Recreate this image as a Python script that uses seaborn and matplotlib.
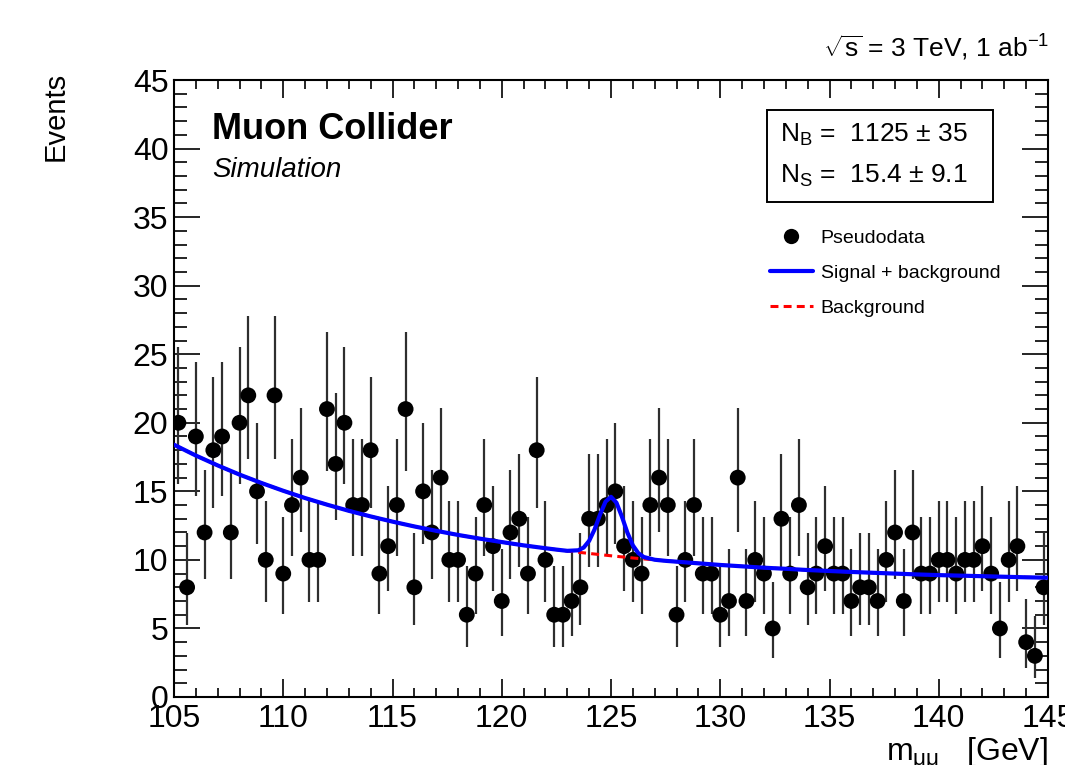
import numpy as np
import matplotlib
matplotlib.use("Agg")
import matplotlib.pyplot as plt
import seaborn as sns
from matplotlib.lines import Line2D
from matplotlib.patches import Rectangle
from matplotlib.ticker import MultipleLocator

# ---------------- data ----------------
bin_low, bin_high, n_bins = 105.0, 145.0, 100
counts = [20, 8, 19, 12, 18, 19, 12, 20, 22, 15,
          10, 22, 9, 14, 16, 10, 10, 21, 17, 20,
          14, 14, 18, 9, 11, 14, 21, 8, 15, 12,
          16, 10, 10, 6, 9, 14, 11, 7, 12, 13,
          9, 18, 10, 6, 6, 7, 8, 13, 13, 14,
          15, 11, 10, 9, 14, 16, 14, 6, 10, 14,
          9, 9, 6, 7, 16, 7, 10, 9, 5, 13,
          9, 14, 8, 9, 11, 9, 9, 7, 8, 8,
          7, 10, 12, 7, 12, 9, 9, 10, 10, 9,
          10, 10, 11, 9, 5, 10, 11, 4, 3, 8]

bkg_mass = [105, 106, 107, 108, 109, 110, 111, 112, 113, 114,
            115, 116, 117, 118, 119, 120, 121, 122, 123, 124,
            125, 126, 127, 128, 129, 130, 131, 132, 133, 134,
            135, 136, 137, 138, 139, 140, 141, 142, 143, 144, 145]
bkg_events = [18.40, 17.61, 16.89, 16.22, 15.61, 15.04, 14.51, 14.03, 13.58, 13.17,
              12.79, 12.44, 12.12, 11.82, 11.55, 11.30, 11.06, 10.85, 10.65, 10.47,
              10.30, 10.14, 10.00, 9.87, 9.75, 9.63, 9.53, 9.43, 9.35, 9.26,
              9.19, 9.12, 9.06, 9.00, 8.94, 8.89, 8.85, 8.81, 8.77, 8.73, 8.70]

sb_mass = [105, 106, 107, 108, 109, 110, 111, 112, 113, 114,
           115, 116, 117, 118, 119, 120, 121, 122, 122.5, 123,
           123.5, 123.75, 124, 124.25, 124.5, 124.75, 125, 125.25, 125.5, 125.75,
           126, 126.25, 126.5, 127, 127.5, 128, 129, 130, 131, 132,
           133, 134, 135, 136, 137, 138, 139, 140, 141, 142, 143, 144, 145]
sb_events = [18.40, 17.61, 16.89, 16.22, 15.61, 15.04, 14.51, 14.03, 13.58, 13.17,
             12.79, 12.44, 12.12, 11.82, 11.55, 11.30, 11.06, 10.85, 10.75, 10.66,
             10.70, 10.90, 11.39, 12.23, 13.31, 14.25, 14.60, 14.17, 13.15, 11.99,
             11.06, 10.49, 10.21, 10.01, 9.93, 9.87, 9.75, 9.63, 9.53, 9.43,
             9.35, 9.26, 9.19, 9.12, 9.06, 9.00, 8.94, 8.89, 8.85, 8.81, 8.77, 8.73, 8.70]

# ---------------- derived ----------------
edges = np.linspace(bin_low, bin_high, n_bins + 1)
mass = 0.5 * (edges[:-1] + edges[1:])
n = np.array(counts, dtype=float)
# Poisson (Garwood-type) asymmetric errors, Wilson-Hilferty approximation
up = (n + 1) * (1 - 1 / (9 * (n + 1)) + 1 / (3 * np.sqrt(n + 1))) ** 3 - n
lo = n - n * (1 - 1 / (9 * n) - 1 / (3 * np.sqrt(n))) ** 3

# ---------------- style ----------------
sns.set_theme(style="ticks")
plt.rcParams["font.family"] = ["Liberation Sans", "DejaVu Sans"]
plt.rcParams["text.color"] = "black"
plt.rcParams["axes.labelcolor"] = "black"
plt.rcParams["xtick.color"] = "black"
plt.rcParams["ytick.color"] = "black"
plt.rcParams["mathtext.fontset"] = "custom"
plt.rcParams["mathtext.rm"] = "Liberation Sans"
plt.rcParams["mathtext.it"] = "Liberation Sans:italic"
plt.rcParams["mathtext.bf"] = "Liberation Sans:bold"

fig = plt.figure(figsize=(10.65, 7.65), dpi=100)
ax = fig.add_axes([174 / 1065, 1 - 697 / 765, 874 / 1065, 617 / 765])

ax.errorbar(mass, counts, yerr=[lo, up], fmt="none", ecolor="#2e2e2e",
            elinewidth=1.6, capsize=0, zorder=2)
sns.scatterplot(x=mass, y=counts, ax=ax, color="black", s=130,
                edgecolor="none", linewidth=0, zorder=3, legend=False)
sns.lineplot(x=bkg_mass, y=bkg_events, ax=ax, color="#ff0000", linewidth=2.2,
             estimator=None, sort=False, zorder=4)
ax.lines[-1].set_linestyle((0, (2.6, 1.7)))
sns.lineplot(x=sb_mass, y=sb_events, ax=ax, color="#0000ff", linewidth=3.0,
             estimator=None, sort=False, zorder=5)

ax.set_xlim(bin_low, bin_high)
ax.set_ylim(0, 45)
ax.xaxis.set_major_locator(MultipleLocator(5))
ax.xaxis.set_minor_locator(MultipleLocator(1))
ax.yaxis.set_major_locator(MultipleLocator(5))
ax.yaxis.set_minor_locator(MultipleLocator(1))
ax.tick_params(which="both", direction="in", top=True, right=True,
               width=1.2, color="black", labelsize=23, labelcolor="black")
ax.tick_params(axis="x", which="major", length=13, pad=5)
ax.tick_params(axis="x", which="minor", length=6.5)
ax.tick_params(axis="y", which="major", length=19, pad=4)
ax.tick_params(axis="y", which="minor", length=9.5)
for sp in ax.spines.values():
    sp.set_linewidth(1.5)
    sp.set_color("black")
ax.set_xlabel("")
ax.set_ylabel("")

# axis titles
ax.text(-0.136, 1.013, "Events", rotation=90, ha="center", va="top",
        fontsize=21, color="black", transform=ax.transAxes)
ax.text(1.0, -0.063, r"m$_{\rm μμ}$   [GeV]", ha="right", va="top",
        fontsize=23, color="black", transform=ax.transAxes)

# header
ax.text(1.002, 1.037, r"$\sqrt{\rm s}$ = 3 TeV, 1 ab$^{-1}$", ha="right",
        va="baseline", fontsize=19, color="black", transform=ax.transAxes)
ax.text(0.0435, 0.905, "Muon Collider", fontweight="bold", fontsize=26,
        ha="left", va="baseline", color="black", transform=ax.transAxes)
ax.text(0.0435, 0.842, "Simulation", fontstyle="italic", fontsize=20,
        ha="left", va="baseline", color="black", transform=ax.transAxes)

# fit result box
ax.add_patch(Rectangle((0.6785, 0.8023), 0.937 - 0.6785, 0.9514 - 0.8023,
                       transform=ax.transAxes, fill=True, facecolor="white",
                       edgecolor="black", linewidth=1.4, zorder=6))
ax.text(0.693, 0.900, r"N$_{\rm B}$ =  1125 ± 35", fontsize=19, color="black",
        ha="left", va="baseline", transform=ax.transAxes, zorder=7)
ax.text(0.693, 0.833, r"N$_{\rm S}$ =  15.4 ± 9.1", fontsize=19, color="black",
        ha="left", va="baseline", transform=ax.transAxes, zorder=7)

# legend
handles = [
    Line2D([], [], linestyle="none", marker="o", markersize=11,
           color="black", markeredgewidth=0),
    Line2D([], [], color="#0000ff", linewidth=3.0),
    Line2D([], [], color="#ff0000", linewidth=2.2, linestyle=(0, (2.6, 1.7))),
]
labels = ["Pseudodata", "Signal + background", "Background"]
leg = ax.legend(handles, labels, loc="upper left", bbox_to_anchor=(0.682, 0.7585),
                frameon=False, fontsize=14, handlelength=2.2, handletextpad=0.4,
                labelspacing=0.9, borderpad=0, borderaxespad=0)
for t in leg.get_texts():
    t.set_color("black")

fig.savefig("out.png", dpi=100)
